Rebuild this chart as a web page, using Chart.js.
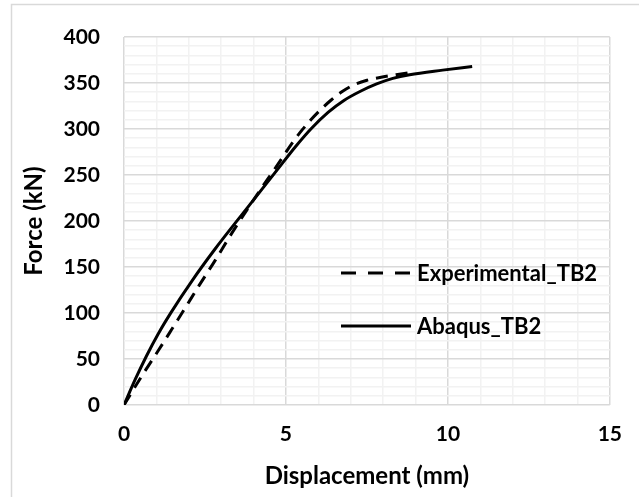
<!DOCTYPE html>
<html>
<head>
<meta charset="utf-8">
<script src="https://cdn.jsdelivr.net/npm/chart.js@4"></script>
<style>
  body { margin: 0; background: #fff; }
</style>
</head>
<body>
<canvas id="forceChart" width="639" height="497"></canvas>
<script>
// displacement (mm) / force (kN)
const expDisp  = [0, 0.54, 1.02, 1.47, 1.88, 2.32, 2.83, 3.28, 3.74, 4.25, 4.76, 5.16, 5.5, 5.77, 6.1, 6.38, 6.75, 7.1, 7.5, 7.9, 8.4, 8.96];
const expForce = [0, 31, 57, 82, 105, 130, 158, 184, 209, 236, 262, 283, 299, 310, 322, 331, 341, 348, 353, 356, 359, 362];

const abqDisp  = [0, 0.35, 0.69, 1.05, 1.46, 2.1, 2.8, 3.8, 4.76, 5.3, 5.77, 6.3, 6.79, 7.3, 7.8, 8.3, 8.82, 9.84, 10.75];
const abqForce = [0, 28, 53, 77, 101, 135, 169, 214, 257, 281, 300, 318, 331, 341, 349, 355, 359, 364, 368];

const xTicks = [0, 5, 10, 15];
const yTicks = [0, 50, 100, 150, 200, 250, 300, 350, 400];
const seriesNames = ['Experimental_TB2', 'Abaqus_TB2'];

const FONT = 'Lato, "Open Sans", sans-serif';

function toPoints(xs, ys) {
  return xs.map((x, i) => ({ x: x, y: ys[i] }));
}

// light frame round the chart, cut off at right and bottom
const frame = {
  id: 'frame',
  beforeDraw(chart) {
    const c = chart.ctx;
    c.save();
    c.fillStyle = '#fff';
    c.fillRect(0, 0, chart.width, chart.height);
    c.strokeStyle = '#d9d9d9';
    c.lineWidth = 1.5;
    c.strokeRect(11.5, 4.5, chart.width + 20, chart.height + 20);
    c.restore();
  }
};

// legend drawn inside the plot, like the original
const innerLegend = {
  id: 'innerLegend',
  afterDraw(chart) {
    const c = chart.ctx;
    const area = chart.chartArea;
    const x0 = area.left + 217;
    const rows = [area.top + 236, area.top + 289];
    c.save();
    c.font = 'bold 22px ' + FONT;
    c.fillStyle = '#000';
    c.textBaseline = 'middle';
    chart.data.datasets.forEach((ds, i) => {
      c.beginPath();
      c.setLineDash(ds.borderDash ? [15, 12] : []);
      c.lineWidth = 3;
      c.strokeStyle = '#000';
      c.moveTo(x0, rows[i]);
      c.lineTo(x0 + 70, rows[i]);
      c.stroke();
      c.setLineDash([]);
      c.fillText(ds.label, x0 + 76, rows[i] + 1);
    });
    c.restore();
  }
};

new Chart(document.getElementById('forceChart'), {
  type: 'scatter',
  data: {
    datasets: [
      {
        label: seriesNames[0],
        data: toPoints(expDisp, expForce),
        showLine: true,
        borderColor: '#000',
        borderWidth: 3,
        borderDash: [12, 8],
        pointRadius: 0,
        cubicInterpolationMode: 'monotone'
      },
      {
        label: seriesNames[1],
        data: toPoints(abqDisp, abqForce),
        showLine: true,
        borderColor: '#000',
        borderWidth: 3,
        pointRadius: 0,
        cubicInterpolationMode: 'monotone'
      }
    ]
  },
  plugins: [frame, innerLegend],
  options: {
    responsive: false,
    animation: false,
    layout: { padding: { top: 37, right: 14, left: 16, bottom: 6 } },
    plugins: {
      legend: { display: false },
      tooltip: { enabled: false }
    },
    scales: {
      x: {
        type: 'linear',
        min: 0,
        max: 15,
        afterFit(scale) { scale.height = 86; },
        afterBuildTicks(scale) {
          scale.ticks = [];
          for (let v = 0; v <= 15; v++) scale.ticks.push({ value: v });
        },
        ticks: {
          autoSkip: false,
          maxRotation: 0,
          color: '#000',
          font: { family: FONT, size: 21, weight: 'bold' },
          padding: 17,
          callback: v => xTicks.includes(v) ? v : ''
        },
        grid: {
          drawTicks: false,
          color: ctx => (ctx.tick && ctx.tick.value % 5 === 0) ? '#d9d9d9' : '#f2f2f2',
          lineWidth: 1.5
        },
        border: { display: false },
        title: {
          display: true,
          text: 'Displacement (mm)',
          color: '#000',
          font: { family: FONT, size: 24, weight: 'bold' },
          padding: { top: 0, bottom: 0 }
        }
      },
      y: {
        type: 'linear',
        min: 0,
        max: 400,
        afterFit(scale) { scale.width = 108; },
        afterBuildTicks(scale) {
          scale.ticks = [];
          for (let v = 0; v <= 400; v += 10) scale.ticks.push({ value: v });
        },
        ticks: {
          autoSkip: false,
          color: '#000',
          font: { family: FONT, size: 21, weight: 'bold' },
          padding: 24,
          callback: v => yTicks.includes(v) ? v : ''
        },
        grid: {
          drawTicks: false,
          color: ctx => (ctx.tick && ctx.tick.value % 50 === 0) ? '#d9d9d9' : '#f2f2f2',
          lineWidth: 1.5
        },
        border: { display: false },
        title: {
          display: true,
          text: 'Force (kN)',
          color: '#000',
          font: { family: FONT, size: 24, weight: 'bold' },
          padding: { top: 4, bottom: 0 }
        }
      }
    }
  }
});
</script>
</body>
</html>
